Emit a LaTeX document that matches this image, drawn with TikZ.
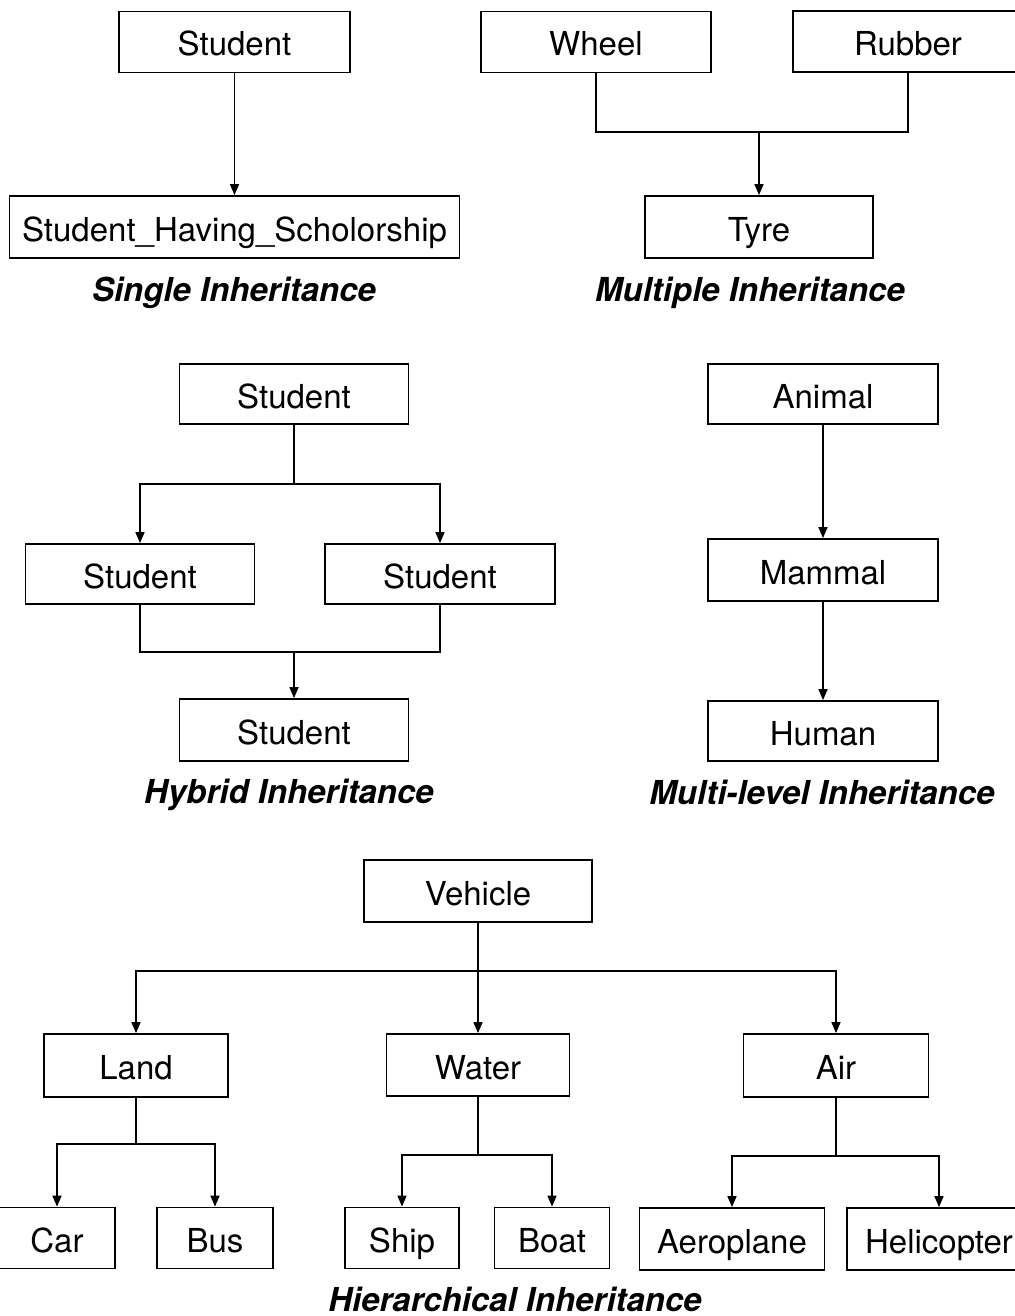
\documentclass[tikz,border=0pt]{standalone}
\usepackage{fontspec}
\setmainfont{TeX Gyre Heros}
\usetikzlibrary{arrows.meta}
\tikzset{
  cls/.style={draw, line width=1.8pt, inner sep=0pt, text height=28pt, text depth=0pt,
    font=\fontsize{33}{40}\selectfont, minimum height=61pt},
  captxt/.style={anchor=base, font=\fontsize{33}{40}\selectfont\bfseries\itshape},
  link/.style={line width=1.6pt},
  arr/.style={line width=1.6pt, -{Triangle[length=11pt,width=9pt]}},
}
\begin{document}
\begin{tikzpicture}[x=1pt,y=-1pt]
\useasboundingbox (0,0) rectangle (1014,1316);
% Single
\node[cls, minimum width=231pt] (s1) at (234.5,42) {Student};
\node[cls, minimum width=450pt, minimum height=62pt] (s2) at (234.5,227) {Student\_Having\_Scholorship};
\draw[arr] (s1.south) -- (s2.north);
\node[captxt] (c1) at (234,301) {Single Inheritance};
% Multiple
\node[cls, minimum width=230pt] (wheel) at (596,42) {Wheel};
\node[cls, minimum width=230pt] (rubber) at (908,41.5) {Rubber};
\node[cls, minimum width=228pt, minimum height=62pt] (tyre) at (759,227) {Tyre};
\coordinate (mj) at (759,132);
\draw[link] (wheel.south) -- (wheel.south |- mj) -- (rubber.south |- mj) -- (rubber.south);
\draw[arr] (mj) -- (tyre.north);
\node[captxt] (c2) at (750,301) {Multiple Inheritance};
% Hybrid
\node[cls, minimum width=229pt, minimum height=60pt] (h1) at (294,394) {Student};
\node[cls, minimum width=229pt, minimum height=60pt] (h2) at (140,574) {Student};
\node[cls, minimum width=230pt, minimum height=60pt] (h3) at (440,574) {Student};
\node[cls, minimum width=229pt, minimum height=62pt] (h4) at (294,730) {Student};
\coordinate (hj1) at (294,484);
\coordinate (hj2) at (294,652);
\draw[link] (h1.south) -- (hj1);
\draw[arr] (hj1) -- (h2.north |- hj1) -- (h2.north);
\draw[arr] (hj1) -- (h3.north |- hj1) -- (h3.north);
\draw[link] (h2.south) -- (h2.south |- hj2) -- (h3.south |- hj2) -- (h3.south);
\draw[arr] (hj2) -- (h4.north);
\node[captxt] (c3) at (289,803) {Hybrid Inheritance};
% Multi-level
\node[cls, minimum width=230pt, minimum height=60pt] (m1) at (823,394) {Animal};
\node[cls, minimum width=230pt, minimum height=62pt] (m2) at (823,570) {Mammal};
\node[cls, minimum width=230pt, minimum height=60pt] (m3) at (823,731) {Human};
\draw[arr] (m1.south) -- (m2.north);
\draw[arr] (m2.south) -- (m3.north);
\node[captxt] (c4) at (822,804) {Multi-level Inheritance};
% Hierarchical
\node[cls, minimum width=228pt, minimum height=62pt] (veh) at (478,891) {Vehicle};
\node[cls, minimum width=184pt, minimum height=63pt] (land) at (136,1065.5) {Land};
\node[cls, minimum width=183pt, minimum height=62pt] (water) at (478,1065) {Water};
\node[cls, minimum width=185pt, minimum height=63pt] (air) at (836,1065.5) {Air};
\coordinate (vj) at (478,971);
\draw[link] (veh.south) -- (vj);
\draw[arr] (vj) -- (land.north |- vj) -- (land.north);
\draw[arr] (vj) -- (water.north);
\draw[arr] (vj) -- (air.north |- vj) -- (air.north);
\node[cls, minimum width=116pt] (car) at (57,1238) {Car};
\node[cls, minimum width=116pt] (bus) at (215,1238) {Bus};
\node[cls, minimum width=114pt] (ship) at (402,1238) {Ship};
\node[cls, minimum width=115pt] (boat) at (552,1238) {Boat};
\node[cls, minimum width=185pt, minimum height=62pt] (aero) at (732,1239) {Aeroplane};
\node[cls, minimum width=184pt, minimum height=62pt] (heli) at (939,1239) {Helicopter};
\coordinate (lj) at (136,1144);
\coordinate (wj) at (478,1155);
\coordinate (aj) at (836,1156);
\draw[link] (land.south) -- (lj);
\draw[arr] (lj) -- (car.north |- lj) -- (car.north);
\draw[arr] (lj) -- (bus.north |- lj) -- (bus.north);
\draw[link] (water.south) -- (wj);
\draw[arr] (wj) -- (ship.north |- wj) -- (ship.north);
\draw[arr] (wj) -- (boat.north |- wj) -- (boat.north);
\draw[link] (air.south) -- (aj);
\draw[arr] (aj) -- (aero.north |- aj) -- (aero.north);
\draw[arr] (aj) -- (heli.north |- aj) -- (heli.north);
\node[captxt] (c5) at (515,1311) {Hierarchical Inheritance};
\end{tikzpicture}
\end{document}
